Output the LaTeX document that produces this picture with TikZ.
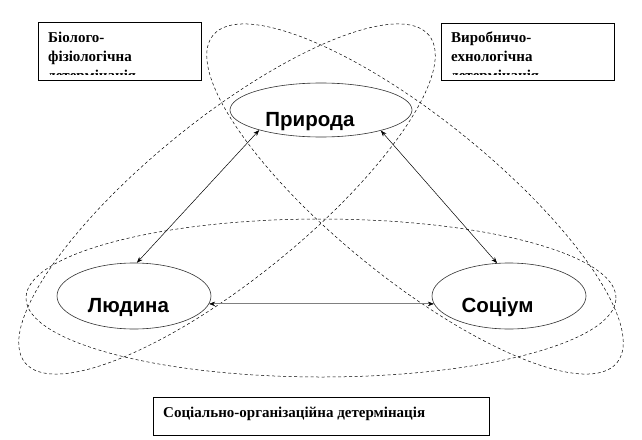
\documentclass[tikz,border=0pt]{standalone}
\usepackage{fontspec}
\usetikzlibrary{shapes.geometric,arrows.meta}
\newfontfamily\boxfont{Liberation Serif}
\newfontfamily\ellfont{Liberation Sans}
\tikzset{
  dashell/.style={ellipse, draw=black, line width=0.5pt, dash pattern=on 3pt off 2.5pt, inner sep=0pt},
  solidell/.style={ellipse, draw=black!80, fill=white, line width=0.6pt, inner sep=0pt},
  framebox/.style={draw=black, fill=white, line width=0.6pt, inner sep=0pt, rectangle},
  boxtext/.style={font=\boxfont\bfseries\fontsize{15}{19}\selectfont, align=left, inner sep=0pt},
  elltext/.style={font=\ellfont\bfseries\fontsize{20.5}{24}\selectfont, inner sep=0pt, anchor=base},
  linkarrow/.style={{Stealth[length=6pt,width=4.5pt]}-{Stealth[length=6pt,width=4.5pt]}, line width=0.5pt, black},
  grayarrow/.style={{Stealth[length=6pt,width=4.5pt,color=black,line width=0.4pt]}-{Stealth[length=6pt,width=4.5pt,color=black,line width=0.4pt]}, line width=1pt, black!50}
}
\begin{document}
\begin{tikzpicture}[x=1pt,y=-1pt]
\useasboundingbox (0,0) rectangle (642,439);
% large dashed ellipses
\node[dashell, minimum width=590pt, minimum height=158pt] (eA) at (321,298) {};
\node[dashell, minimum width=520pt, minimum height=160pt, rotate=-39] (eB) at (415,199) {};
\node[dashell, minimum width=520pt, minimum height=160pt, rotate=39] (eC) at (227,199) {};
% boxes
\node[framebox, minimum width=163pt, minimum height=58pt, anchor=north west] (b1) at (38,22) {};
\begin{scope}
  \clip (38,22) rectangle (201,74);
  \node[boxtext, anchor=north west] (t1) at (48,31.5) {Біолого-\\фізіологічна\\детермінація};
\end{scope}
\node[framebox, minimum width=173pt, minimum height=57pt, anchor=north west] (b2) at (441,23) {};
\begin{scope}
  \clip (441,23) rectangle (614,74);
  \node[boxtext, anchor=north west] (t2) at (451,31.5) {Виробничо-\\ехнологічна\\детермінація};
\end{scope}
\node[framebox, minimum width=336pt, minimum height=38pt, anchor=north west] (b3) at (153,397) {};
\node[boxtext, anchor=base west] (t3) at (163,417) {Соціально-організаційна детермінація};
% solid ellipses
\node[solidell, minimum width=182pt, minimum height=54pt] (pr) at (321,110) {};
\node[solidell, minimum width=154pt, minimum height=66pt] (lu) at (134,296) {};
\node[solidell, minimum width=154pt, minimum height=66pt] (so) at (509,296) {};
\node[elltext] (tpr) at (310,126) {Природа};
\node[elltext] (tlu) at (128.5,312) {Людина};
\node[elltext] (tso) at (497.5,312) {Соціум};
% arrows
\draw[linkarrow] (pr.198) -- (lu.85);
\draw[linkarrow] (pr.-19) -- (so.110);
\draw[grayarrow] (lu.-6) -- (so.186);
\end{tikzpicture}
\end{document}
